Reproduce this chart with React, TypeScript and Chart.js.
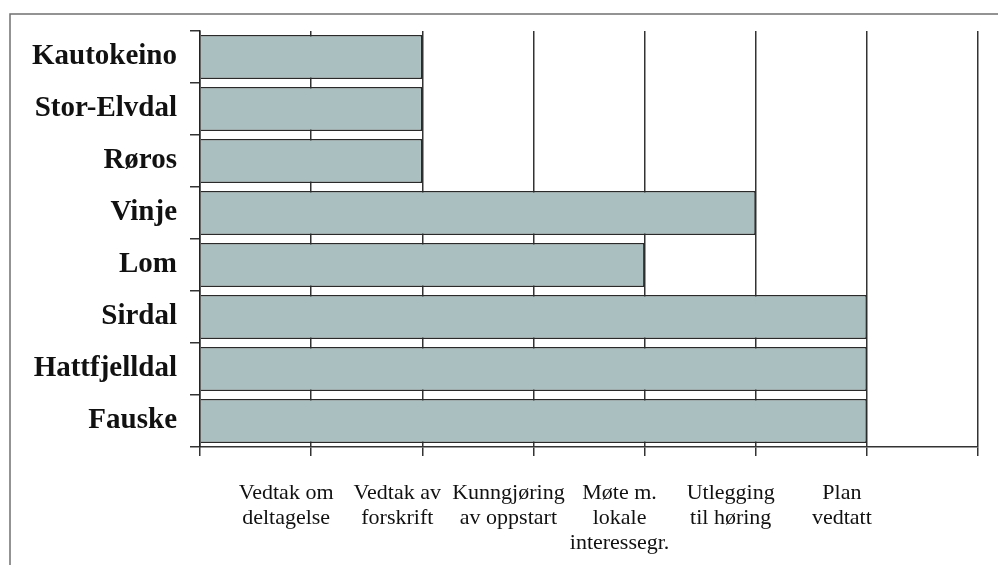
import { useEffect, useRef } from "react";
import { Chart, registerables } from "chart.js";

Chart.register(...registerables);

// Municipalities and the planning stage each one has reached
const municipalities = [
  "Kautokeino",
  "Stor-Elvdal",
  "Røros",
  "Vinje",
  "Lom",
  "Sirdal",
  "Hattfjelldal",
  "Fauske",
];
const stageReached = [2, 2, 2, 5, 4, 6, 6, 6];

// Stage names shown along the horizontal axis (index = stage number)
const stageLabels: (string | string[])[] = [
  "",
  ["Vedtak om", "deltagelse"],
  ["Vedtak av", "forskrift"],
  ["Kunngjøring", "av oppstart"],
  ["Møte m.", "lokale", "interessegr."],
  ["Utlegging", "til høring"],
  ["Plan", "vedtatt"],
  "",
];

const SERIF = "'Liberation Serif', 'Times New Roman', serif";

// Thin grey frame around the whole figure
const framePlugin = {
  id: "frame",
  beforeDraw(chart: Chart) {
    const ctx = chart.ctx;
    ctx.save();
    ctx.fillStyle = "#ffffff";
    ctx.fillRect(0, 0, chart.width, chart.height);
    ctx.strokeStyle = "#707070";
    ctx.lineWidth = 1.5;
    ctx.strokeRect(10, 14, chart.width + 50, chart.height + 50);
    ctx.restore();
  },
};

export default function App() {
  const canvasRef = useRef<HTMLCanvasElement | null>(null);

  useEffect(() => {
    if (!canvasRef.current) return;
    const chart = new Chart(canvasRef.current, {
      type: "bar",
      data: {
        labels: municipalities,
        datasets: [
          {
            data: stageReached,
            backgroundColor: "#a9bfc0",
            borderColor: "#2a2a2a",
            borderWidth: 1.5,
            categoryPercentage: 0.85,
            barPercentage: 1,
          },
        ],
      },
      options: {
        indexAxis: "y",
        animation: false,
        responsive: false,
        layout: { padding: { top: 31, right: 20, left: 0, bottom: 0 } },
        plugins: {
          legend: { display: false },
          tooltip: { enabled: false },
        },
        scales: {
          x: {
            type: "linear",
            min: 0,
            max: 7,
            afterFit(scale: any) {
              scale.height = 118;
              scale.paddingLeft = 0;
              scale.paddingRight = 0;
            },
            ticks: {
              stepSize: 1,
              autoSkip: false,
              maxRotation: 0,
              minRotation: 0,
              labelOffset: -25,
              padding: 25,
              color: "#111111",
              font: { family: SERIF, size: 22, lineHeight: 1.14 },
              callback: (value: any) => stageLabels[Number(value)] ?? "",
            },
            grid: {
              color: "#333333",
              lineWidth: 1.5,
              tickLength: 9,
              drawOnChartArea: true,
            },
            border: { display: true, color: "#333333", width: 1.5 },
          },
          y: {
            type: "category",
            afterFit(scale: any) {
              scale.width = 200;
              scale.paddingTop = 0;
              scale.paddingBottom = 0;
            },
            ticks: {
              padding: 13,
              color: "#111111",
              font: { family: SERIF, size: 29, weight: "bold" },
            },
            grid: {
              offset: true,
              drawOnChartArea: false,
              drawTicks: true,
              tickLength: 10,
              color: "#333333",
              lineWidth: 1.5,
            },
            border: { display: true, color: "#222222", width: 1.5 },
          },
        },
      },
      plugins: [framePlugin],
    });
    return () => chart.destroy();
  }, []);

  return (
    <div style={{ position: "fixed", left: 0, top: 0, width: 998, height: 565, background: "#fff" }}>
      <canvas ref={canvasRef} width={998} height={565} />
    </div>
  );
}
